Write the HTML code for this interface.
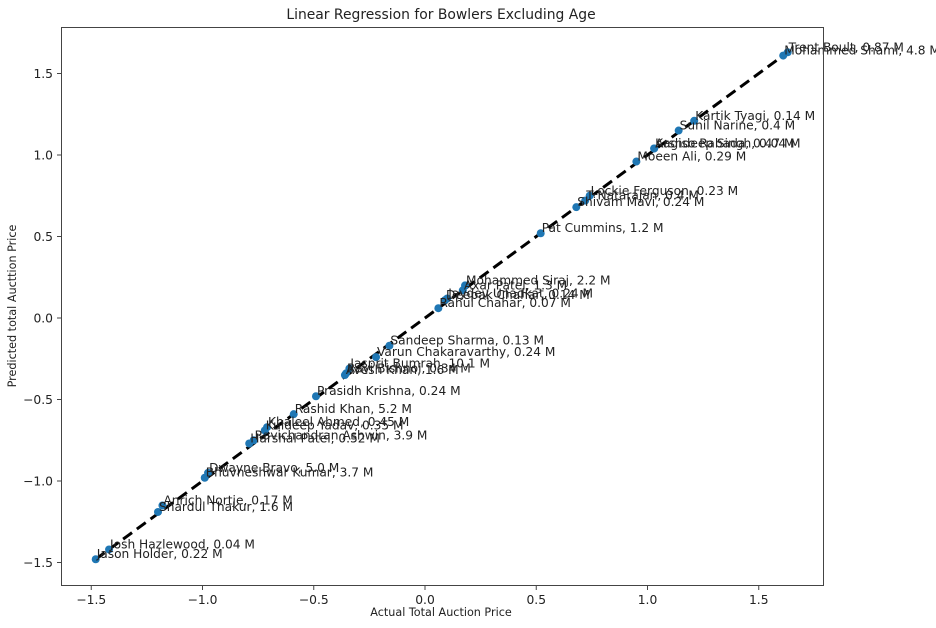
<!DOCTYPE html>
<html><head><meta charset="utf-8"><style>
body{margin:0;background:#fff;}
svg{display:block;font-family:"DejaVu Sans","Liberation Sans",sans-serif;}
</style></head><body>
<svg id="chart" width="936" height="628">
<rect x="0" y="0" width="936" height="628" fill="#fff"/>
<text x="441" y="19" font-size="13.9" text-anchor="middle" fill="#222">Linear Regression for Bowlers Excluding  Age</text>
<text x="441" y="616" font-size="11.2" text-anchor="middle" fill="#222">Actual Total Auction Price</text>
<text x="16" y="306" font-size="11.2" text-anchor="middle" fill="#222" transform="rotate(-90 16 306)">Predicted total Aucttion Price</text>
<g id="ticks"></g>
<g id="line"></g>
<g id="points"></g>
<g id="labels"></g>
<rect x="61.5" y="27.5" width="762" height="558" fill="none" stroke="#444" stroke-width="1"/>
</svg>
<script>
const names=["Trent Boult, 0.87 M","Mohammed Shami, 4.8 M","Kartik Tyagi, 0.14 M","Sunil Narine, 0.4 M","Kagiso Rabada, 0.47 M","Arshdeep Singh, 0.04 M","Moeen Ali, 0.29 M","Lockie Ferguson, 0.23 M","T Natarajan, 0.4 M","Shivam Mavi, 0.24 M","Pat Cummins, 1.2 M","Mohammed Siraj, 2.2 M","Axar Patel, 1.3 M","Jaydev Unadkat, 0.24 M","Deepak Chahar, 0.14 M","Rahul Chahar, 0.07 M","Sandeep Sharma, 0.13 M","Varun Chakaravarthy, 0.24 M","Jasprit Bumrah, 10.1 M","Ravi Bishnoi, 0.34 M","Avesh Khan, 1.6 M","Prasidh Krishna, 0.24 M","Rashid Khan, 5.2 M","Khaleel Ahmed, 0.45 M","Kuldeep Yadav, 0.35 M","Ravichandran Ashwin, 3.9 M","Harshal Patel, 0.52 M","Dwayne Bravo, 5.0 M","Bhuvneshwar Kumar, 3.7 M","Anrich Nortje, 0.17 M","Shardul Thakur, 1.6 M","Josh Hazlewood, 0.04 M","Jason Holder, 0.22 M"];
const actual=[1.63,1.61,1.21,1.14,1.03,1.03,0.95,0.74,0.72,0.68,0.52,0.18,0.17,0.10,0.09,0.06,-0.16,-0.22,-0.34,-0.355,-0.36,-0.49,-0.59,-0.71,-0.72,-0.77,-0.79,-0.975,-0.99,-1.18,-1.2,-1.42,-1.48];
const predicted=[1.63,1.61,1.21,1.15,1.04,1.04,0.96,0.75,0.72,0.68,0.52,0.20,0.17,0.12,0.11,0.06,-0.17,-0.24,-0.31,-0.34,-0.35,-0.48,-0.59,-0.67,-0.69,-0.75,-0.77,-0.95,-0.98,-1.15,-1.19,-1.42,-1.48];
const xTicks=[-1.5,-1.0,-0.5,0.0,0.5,1.0,1.5];
const yTicks=[-1.5,-1.0,-0.5,0.0,0.5,1.0,1.5];
const NS="http://www.w3.org/2000/svg";
function sx(v){return 425+v*222.5;}
function sy(v){return 318-v*163;}
function mk(tag,attrs,parent){const e=document.createElementNS(NS,tag);for(const k in attrs)e.setAttribute(k,attrs[k]);parent.appendChild(e);return e;}
const tg=document.getElementById('ticks');
xTicks.forEach(t=>{
 const x=sx(t);
 const l=mk('line',{x1:x,x2:x,y1:586,y2:590,stroke:'#444'},tg);
 
 
 const tx=mk('text',{x:x,y:604,'font-size':12.3,'text-anchor':'middle',fill:'#222'},tg);
 tx.textContent=t.toFixed(1).replace('-','\u2212');
 
 
});
yTicks.forEach(t=>{
 const y=sy(t);
 const l=mk('line',{x1:57,x2:61,y1:y,y2:y,stroke:'#444'},tg);
 
 
 const tx=mk('text',{x:53,y:y+4.5,'font-size':12.3,'text-anchor':'end',fill:'#222'},tg);
 tx.textContent=t.toFixed(1).replace('-','\u2212');
 
 
});
const pg=document.getElementById('points'),lg=document.getElementById('labels');
actual.forEach((a,i)=>{
 const c=mk('circle',{cx:sx(a),cy:sy(predicted[i]),r:4,fill:'#1f77b4'},pg);
 
 
 const t=mk('text',{x:sx(a)+1,y:sy(predicted[i])-1,'font-size':12.2,fill:'#222'},lg);
 t.textContent=names[i];
 
 
});
const mn=Math.min(...actual),mx=Math.max(...actual);
const ln=mk('line',{x1:sx(mn),y1:sy(mn),x2:sx(mx),y2:sy(mx),stroke:'#000','stroke-width':3,'stroke-dasharray':'11,6'},document.getElementById('line'));


</script>
</body></html>
